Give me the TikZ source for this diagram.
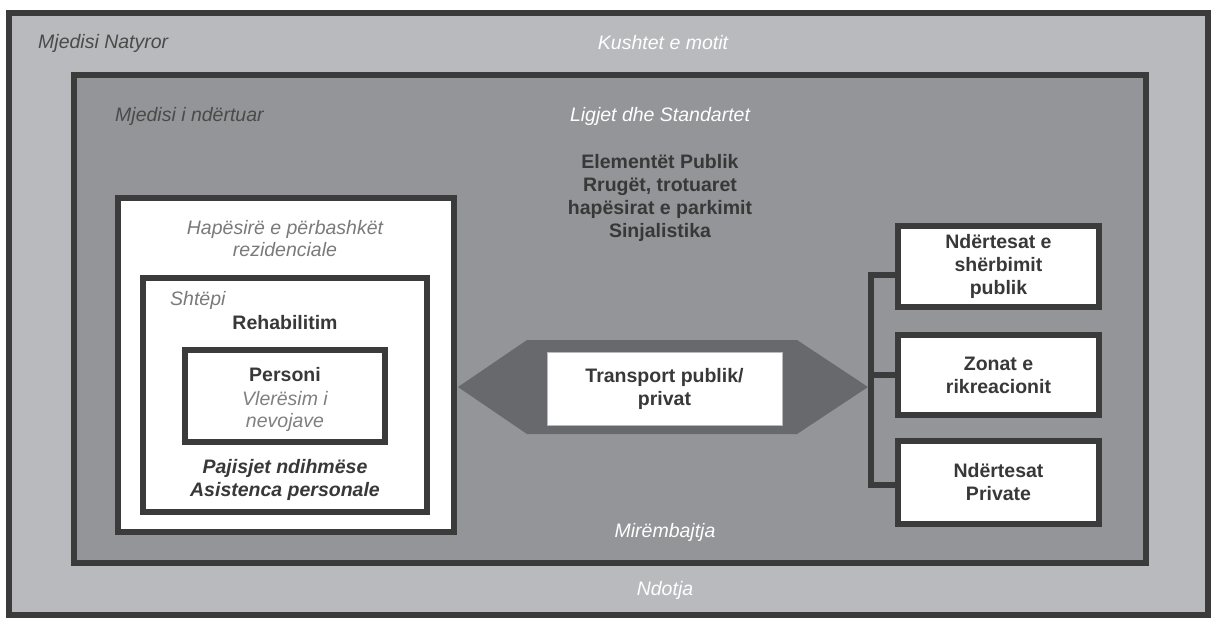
\documentclass[tikz,border=0pt]{standalone}
\usepackage{fontspec}
\setmainfont{Liberation Sans}
\definecolor{light}{HTML}{B9BABD}
\definecolor{mid}{HTML}{949598}
\definecolor{dark}{HTML}{3B3B3B}
\definecolor{hexcol}{HTML}{68696C}
\definecolor{txt}{HTML}{383838}
\definecolor{soft}{HTML}{7A7A7A}
\definecolor{onGray}{HTML}{4A4A4A}
\begin{document}
\begin{tikzpicture}[x=1pt,y=-1pt,
    every node/.style={align=center,inner sep=0pt,font=\fontsize{19.5}{23}\selectfont},
    frame/.style={draw=dark,line width=6pt},
    box/.style={draw=dark,line width=6pt,fill=white},
    link/.style={draw=dark,line width=6pt},
    strong/.style={text=txt,font=\fontsize{19.5}{23}\selectfont\bfseries},
    soft/.style={text=soft,font=\fontsize{19.5}{22}\selectfont\itshape},
    pale/.style={text=white,font=\fontsize{19.5}{22}\selectfont\itshape},
    dim/.style={text=onGray,font=\fontsize{19.5}{22}\selectfont\itshape}]
  \useasboundingbox (0,0) rectangle (1212,619);
  % frames
  \draw[frame,fill=light] (9,13) rectangle (1208,615);
  \draw[frame,fill=mid] (74,75) rectangle (1146,563);
  \draw
    (38,43) node[dim,anchor=west] (natyror){Mjedisi Natyror}
    (663,43) node[pale] (moti){Kushtet e motit}
    (115,116) node[dim,anchor=west] (ndertuar){Mjedisi i ndërtuar}
    (660,116) node[pale] (ligjet){Ligjet dhe Standartet}
    (660,198) node[strong] (elementet){Elementët Publik\\Rrugët, trotuaret\\hapësirat e parkimit\\Sinjalistika}
    (665,532) node[pale] (mirembajtja){Mirëmbajtja}
    (665,590) node[pale] (ndotja){Ndotja};
  % left nest
  \node[box,minimum width=336,minimum height=334] (rezid) at (286,365) {};
  \node[box,minimum width=284,minimum height=234] (shtepi) at (285,395) {};
  \node[box,minimum width=200,minimum height=92] (personi) at (285,396) {};
  \draw
    (285,239) node[soft] (hapesire){Hapësirë e përbashkët\\rezidenciale}
    (170,300) node[soft,anchor=west] (shtepilbl){Shtëpi}
    (285,323) node[strong] (rehab){Rehabilitim}
    (285,375) node[strong] (personilbl){Personi}
    (285,411) node[soft,text=gray] (vleresim){Vlerësim i\\nevojave}
    (285,480) node[strong,font=\fontsize{19.5}{23}\selectfont\bfseries\itshape] (pajisjet){Pajisjet ndihmëse\\Asistenca personale};
  % transport
  \fill[hexcol] (458,387) -- (527,340) -- (797,340) -- (868,387) -- (797,434) -- (527,434) -- cycle;
  \node[draw=light,line width=1pt,fill=white,strong,minimum width=235,minimum height=73] (transport) at (664.5,388.5) {Transport publik/\\privat};
  % right boxes
  \node[box,strong,minimum width=201,minimum height=81] (pub) at (998.5,266.5) {Ndërtesat e\\shërbimit\\publik};
  \node[box,strong,minimum width=201,minimum height=80] (rec) at (998.5,375) {Zonat e\\rikreacionit};
  \node[box,strong,minimum width=201,minimum height=83] (priv) at (998.5,482.5) {Ndërtesat\\Private};
  \coordinate (spinetop) at (871,275);
  \coordinate (spinebot) at (871,485);
  \draw[link] (pub.west |- spinetop) -- (spinetop) -- (spinebot) -- (priv.west |- spinebot);
  \draw[link] (rec.west) -- (rec.west -| spinetop);
\end{tikzpicture}
\end{document}
